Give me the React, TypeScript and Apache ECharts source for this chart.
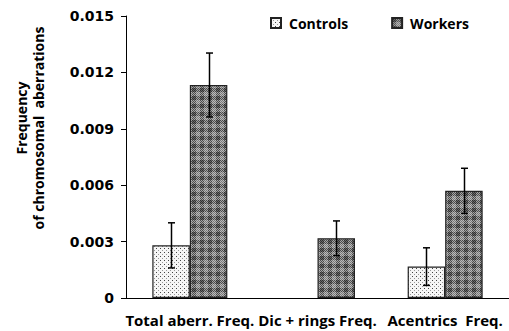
import React, { useEffect, useRef } from "react";
import * as echarts from "echarts";

const categories = ["Total aberr. Freq.", "Dic + rings Freq.", "Acentrics  Freq."];
const controlsValues: (number | string)[] = [0.0028, "-", 0.00167];
const controlsErrors: (number | null)[] = [0.0012, null, 0.001];
const workersValues = [0.01133, 0.00318, 0.0057];
const workersErrors = [0.0017, 0.00092, 0.0012];
const yTicks = ["0", "0.003", "0.006", "0.009", "0.012", "0.015"];
const yTitleLine1 = "Frequency";
const yTitleLine2 = "of chromosomal  aberrations";

const FONT = "'Open Sans', sans-serif";
const NUM_FONT = "'DejaVu Sans', sans-serif";
const BAR_W = 37.5;

function makeControlsPattern(): string {
  const c = document.createElement("canvas");
  c.width = 4;
  c.height = 4;
  const ctx = c.getContext("2d")!;
  ctx.fillStyle = "#f6f6f6";
  ctx.fillRect(0, 0, 4, 4);
  ctx.fillStyle = "#444";
  ctx.fillRect(0, 0, 1, 1);
  ctx.fillStyle = "#999";
  ctx.fillRect(2, 2, 1, 1);
  return c.toDataURL();
}

function makeWorkersPattern(): string {
  const c = document.createElement("canvas");
  c.width = 8;
  c.height = 8;
  const ctx = c.getContext("2d")!;
  for (let y = 0; y < 8; y++) {
    for (let x = 0; x < 8; x++) {
      const vx = x % 8 < 4;
      const hy = y % 8 < 4;
      let col;
      if (vx && hy) col = (x + y) % 2 === 0 ? "#2e2e2e" : "#6a6a6a";
      else if (vx || hy) col = (x + y) % 2 === 0 ? "#4a4a4a" : "#a6a6a6";
      else col = (x + y) % 2 === 0 ? "#7a7a7a" : "#bcbcbc";
      ctx.fillStyle = col;
      ctx.fillRect(x, y, 1, 1);
    }
  }
  return c.toDataURL();
}

export default function App() {
  const ref = useRef<HTMLDivElement>(null);
  useEffect(() => {
    document.body.style.margin = "0";
    const chart = echarts.init(ref.current!, undefined, { renderer: "svg" });
    const ctrlPat = { image: makeControlsPattern(), repeat: "repeat" } as any;
    const workPat = { image: makeWorkersPattern(), repeat: "repeat" } as any;

    const errData: any[] = [];
    controlsValues.forEach((v, i) => {
      const e = controlsErrors[i];
      if (typeof v === "number" && e != null) errData.push([i, v, e, -1]);
    });
    workersValues.forEach((v, i) => {
      errData.push([i, v, workersErrors[i], 1]);
    });

    chart.setOption({
      animation: false,
      textStyle: { fontFamily: FONT },
      grid: { left: 126, right: -5, top: 16, bottom: 33, containLabel: false },
      legend: {
        left: 270,
        top: 16,
        padding: 0,
        itemWidth: 10,
        itemHeight: 10,
        itemGap: 43,
        icon: "rect",
        data: ["Controls", "Workers"],
        textStyle: {
          fontFamily: FONT,
          fontWeight: "bold",
          fontSize: 14,
          color: "#000",
          padding: [0, 0, 0, 3],
        },
      },
      graphic: [
        {
          type: "text",
          x: 21,
          y: 118,
          rotation: Math.PI / 2,
          style: {
            text: yTitleLine1,
            font: `bold 14px ${FONT}`,
            fill: "#000",
            align: "center",
            verticalAlign: "middle",
          },
        },
        {
          type: "text",
          x: 38,
          y: 128,
          rotation: Math.PI / 2,
          style: {
            text: yTitleLine2,
            font: `bold 14px ${FONT}`,
            fill: "#000",
            align: "center",
            verticalAlign: "middle",
          },
        },
      ],
      xAxis: {
        type: "category",
        data: categories,
        axisLine: { lineStyle: { color: "#000", width: 1 } },
        axisTick: { show: false },
        axisLabel: {
          interval: 0,
          margin: 14,
          color: "#000",
          fontWeight: "bold",
          fontSize: 15,
          fontFamily: FONT,
        },
      },
      yAxis: {
        type: "value",
        min: 0,
        max: 0.015,
        interval: 0.003,
        axisLine: { show: true, lineStyle: { color: "#000", width: 1 } },
        axisTick: { show: true, length: 5, lineStyle: { color: "#000" } },
        splitLine: { show: false },
        axisLabel: {
          margin: 12,
          color: "#000",
          fontWeight: "bold",
          fontSize: 14,
          fontFamily: NUM_FONT,
          formatter: (v: number) => yTicks[Math.round(v / 0.003)] ?? "",
        },
      },
      series: [
        {
          name: "Controls",
          type: "bar",
          data: controlsValues,
          barWidth: BAR_W,
          barGap: "0%",
          itemStyle: { color: ctrlPat, borderColor: "#222", borderWidth: 1.2 },
        },
        {
          name: "Workers",
          type: "bar",
          data: workersValues,
          barWidth: BAR_W,
          barGap: "0%",
          itemStyle: { color: workPat, borderColor: "#222", borderWidth: 1.2 },
        },
        {
          type: "custom",
          data: errData,
          encode: { x: 0, y: 1 },
          z: 10,
          renderItem: (params: any, api: any) => {
            const i = api.value(0);
            const v = api.value(1);
            const e = api.value(2);
            const side = api.value(3);
            const top = api.coord([i, v + e]);
            const bot = api.coord([i, v - e]);
            const x = Math.round(top[0] + (side * BAR_W) / 2) + 0.5;
            const cap = 3.5;
            const st = { stroke: "#000", lineWidth: 1.5 };
            return {
              type: "group",
              children: [
                { type: "line", shape: { x1: x, y1: top[1], x2: x, y2: bot[1] }, style: st },
                { type: "line", shape: { x1: x - cap, y1: top[1], x2: x + cap, y2: top[1] }, style: st },
                { type: "line", shape: { x1: x - cap, y1: bot[1], x2: x + cap, y2: bot[1] }, style: st },
              ],
            };
          },
        },
      ],
    });
    return () => chart.dispose();
  }, []);
  return <div ref={ref} style={{ width: 509, height: 331 }} />;
}
